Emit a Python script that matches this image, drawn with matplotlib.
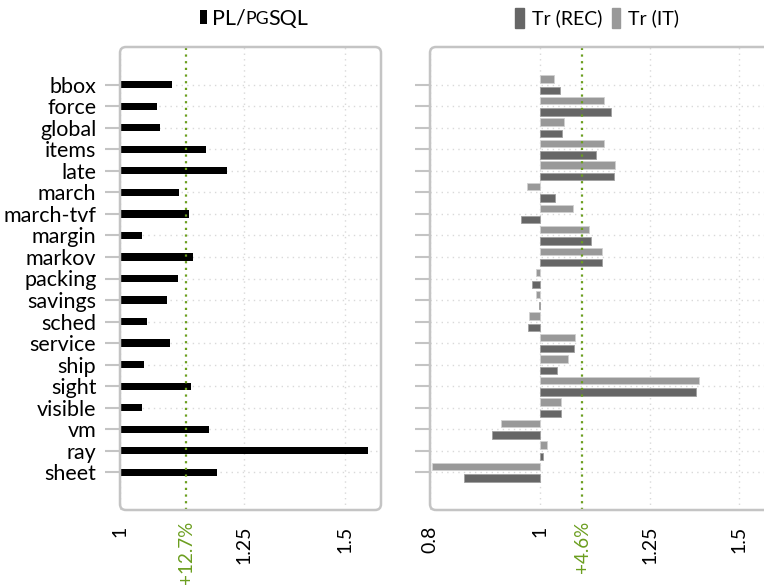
import matplotlib
matplotlib.use("Agg")
import matplotlib.pyplot as plt
from matplotlib.patches import FancyBboxPatch, Patch, Rectangle
from matplotlib.ticker import NullLocator, FixedLocator, FixedFormatter
import matplotlib.transforms as mtransforms

plt.rcParams['font.family'] = ['Lato', 'DejaVu Sans']

categories = ["bbox", "force", "global", "items", "late", "march", "march-tvf",
              "margin", "markov", "packing", "savings", "sched", "service",
              "ship", "sight", "visible", "vm", "ray", "sheet"]
plpgsql = [1.099, 1.068, 1.075, 1.168, 1.212, 1.112, 1.132, 1.041, 1.141, 1.110,
           1.088, 1.050, 1.094, 1.045, 1.136, 1.041, 1.174, 1.563, 1.190]
tr_it = [1.030, 1.140, 1.050, 1.140, 1.166, 0.975, 1.070, 1.106, 1.134, 0.992,
         0.992, 0.979, 1.075, 1.059, 1.383, 1.045, 0.924, 1.014, 0.804]
tr_rec = [1.042, 1.155, 1.047, 1.120, 1.162, 1.032, 0.963, 1.110, 1.134, 0.984,
          0.998, 0.977, 1.072, 1.035, 1.375, 1.044, 0.907, 1.007, 0.858]
left_mean, left_mean_label = 1.127, "+12.7%"
right_mean, right_mean_label = 1.09, "+4.6%"
left_ticks = [1, 1.25, 1.5]
left_ticklabels = ["1", "1.25", "1.5"]
right_ticks = [0.8, 1, 1.25, 1.5]
right_ticklabels = ["0.8", "1", "1.25", "1.5"]

W, H = 764, 585
fig = plt.figure(figsize=(W / 100, H / 100), dpi=100)

GREEN = '#6b9e1f'
FRAME = '#c4c4c4'
GRID = '#d9d9d9'
FS = 15.5
XFS = 14

axL = fig.add_axes([120 / W, 1 - 510 / H, 261 / W, 463 / H])
axR = fig.add_axes([430 / W, 1 - 510 / H, 341 / W, 463 / H])

n = len(categories)
ypos = list(range(n))


def style(ax, xlim, ticks, ticklabels, mean, mean_label, axw, axh):
    ax.set_xscale('log')
    ax.set_xlim(*xlim)
    ax.set_ylim(n - 1 + 1.75, -1.75)
    ax.xaxis.set_major_locator(FixedLocator(ticks))
    ax.xaxis.set_major_formatter(FixedFormatter(ticklabels))
    ax.xaxis.set_minor_locator(NullLocator())
    ax.set_yticks(ypos)
    for s in ax.spines.values():
        s.set_visible(False)
    ax.grid(True, axis='both', linestyle=(0, (1, 3)), color=GRID, linewidth=1.0)
    ax.set_axisbelow(True)
    ax.tick_params(axis='x', length=0, pad=11, labelsize=XFS, labelrotation=90)
    ax.tick_params(axis='y', length=11, width=1.5, color=FRAME, direction='out',
                   labelsize=FS, pad=6)
    for lab in ax.get_xticklabels():
        lab.set_va('top')
    ax.axvline(mean, color=GREEN, linestyle=(0, (1, 2)), linewidth=1.6, zorder=5)
    trans = mtransforms.blended_transform_factory(ax.transData, ax.transAxes)
    ax.text(mean, -11 / axh, mean_label, transform=trans, rotation=90,
            ha='center', va='top', color=GREEN, fontsize=XFS - 0.5)
    frame = FancyBboxPatch((0, 0), 1, 1,
                           boxstyle="round,pad=0,rounding_size=%f" % (6 / axw),
                           transform=ax.transAxes, mutation_aspect=axw / axh,
                           facecolor='none', edgecolor=FRAME, linewidth=1.8,
                           clip_on=False, zorder=6)
    ax.add_patch(frame)


# Left panel
axL.barh(ypos, [v - 1 for v in plpgsql], left=1, height=0.34, color='black',
         zorder=3)
style(axL, (1, 1.6), left_ticks, left_ticklabels, left_mean, left_mean_label, 261, 463)
axL.set_yticklabels(categories)

# Right panel
off = 0.265
axR.barh([y - off for y in ypos], [v - 1 for v in tr_it], left=1, height=0.34,
         color='#999999', edgecolor='#d0d0d0', linewidth=0.6, zorder=3)
axR.barh([y + off for y in ypos], [v - 1 for v in tr_rec], left=1, height=0.34,
         color='#666666', edgecolor='#a0a0a0', linewidth=0.6, zorder=3)
style(axR, (0.8, 1.6), right_ticks, right_ticklabels, right_mean, right_mean_label, 341, 463)
axR.set_yticklabels([])

# Left legend: marker + "PL/" + small-caps "PG" + "SQL"
LFS = 15.5
base_y = 1 - 24.5 / H
fig.patches.append(Rectangle((200 / W, 1 - 24 / H), 7 / W, 14 / H,
                             transform=fig.transFigure, facecolor='black',
                             edgecolor='none'))
r = fig.canvas.get_renderer()
xp = 212
for txt, size in [("PL/", LFS), ("PG", LFS * 0.82), ("SQL", LFS)]:
    t = fig.text(xp / W, base_y, txt, fontsize=size, ha='left', va='baseline')
    bb = t.get_window_extent(renderer=r)
    xp = bb.x1 - 0.5

# Right legend
legR = axR.legend(handles=[Patch(color='#666666', label='Tr (REC)'),
                           Patch(color='#999999', label='Tr (IT)')],
                  loc='lower center', bbox_to_anchor=(0.49, 1.025), frameon=False,
                  ncol=2, handlelength=0.45, handleheight=1.2, handletextpad=0.4,
                  columnspacing=0.5, fontsize=14, borderaxespad=0)

fig.savefig('out.png', dpi=100)
